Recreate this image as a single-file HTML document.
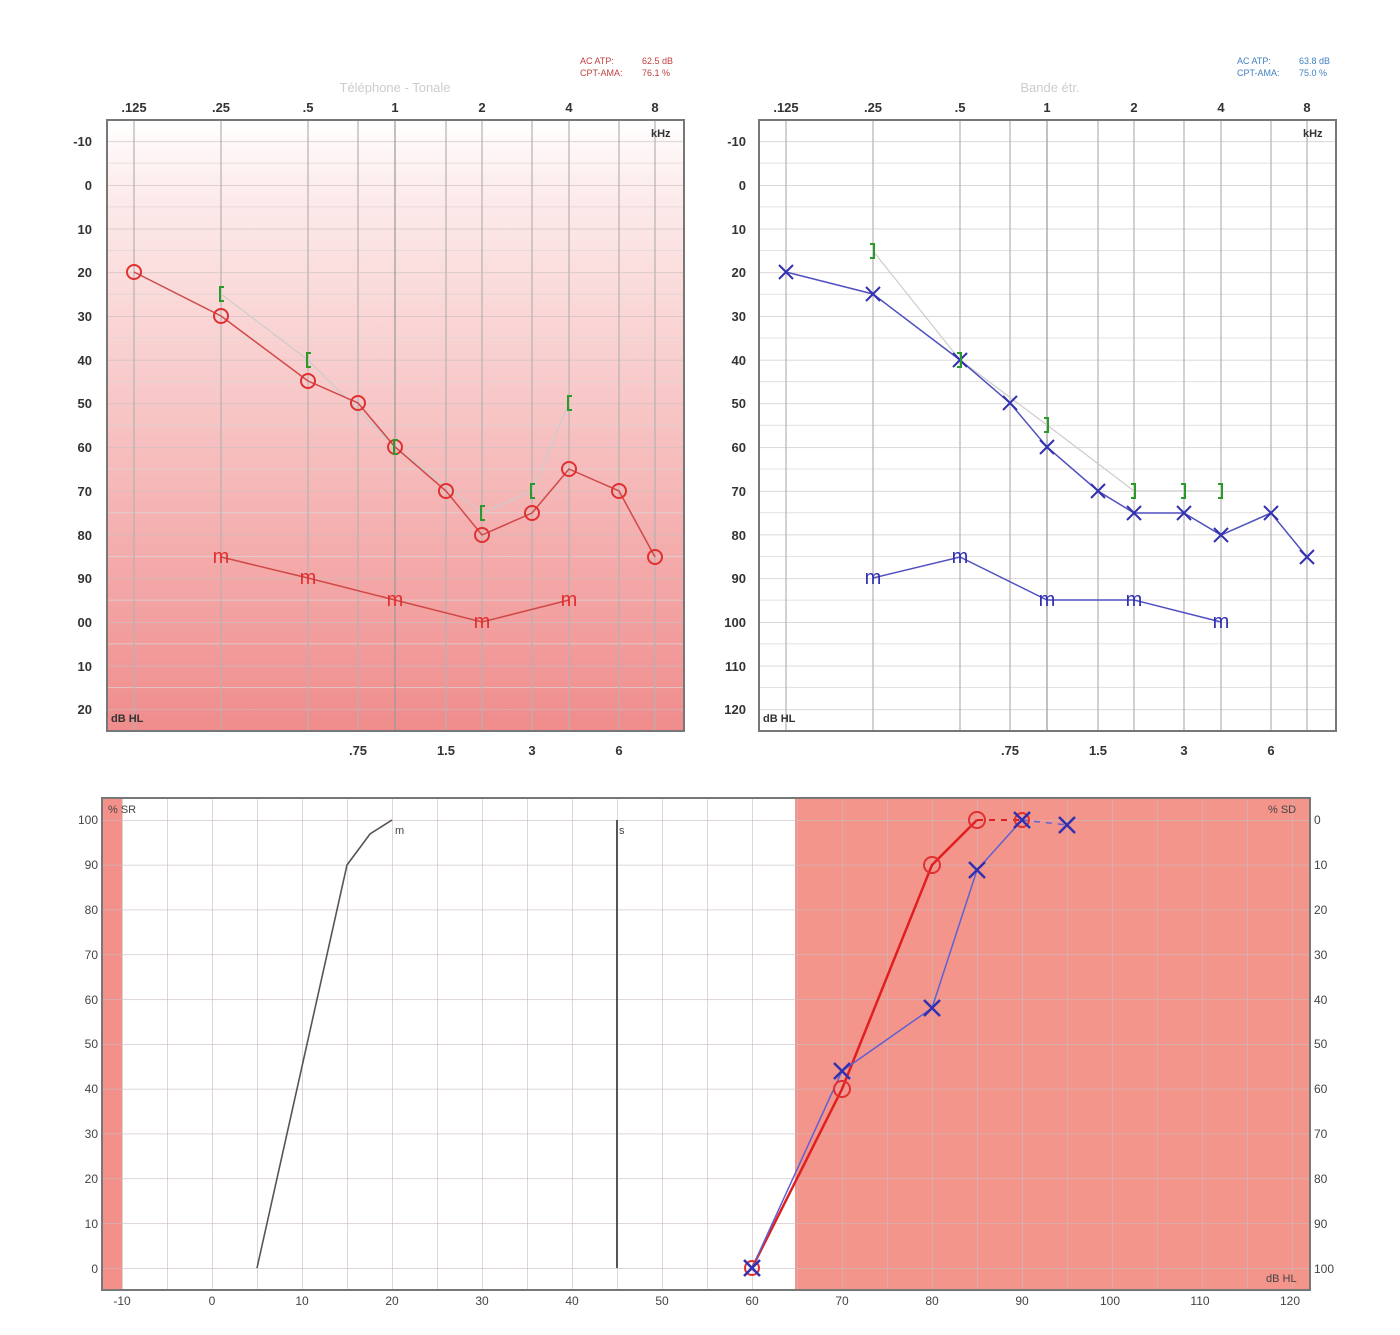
<!DOCTYPE html>
<html><head><meta charset="utf-8"><style>
html,body{margin:0;padding:0;background:#fff;}
svg{display:block;font-family:"Liberation Sans",sans-serif;}
</style></head><body>
<svg width="1400" height="1335" viewBox="0 0 1400 1335" xmlns="http://www.w3.org/2000/svg">
<defs>
<linearGradient id="pk" x1="0" y1="0" x2="0" y2="1">
<stop offset="0" stop-color="#fff"/><stop offset="0.1" stop-color="#fdeeee"/><stop offset="1" stop-color="#f08c8c"/>
</linearGradient>
<pattern id="hg" x="0" y="141.3" width="2000" height="43.7" patternUnits="userSpaceOnUse">
<line x1="0" y1="0" x2="2000" y2="0" stroke="#c8c0c0" stroke-width="1.2"/>
<line x1="0" y1="21.85" x2="2000" y2="21.85" stroke="#ddd6d6" stroke-width="0.8"/>
</pattern>
<pattern id="bg" x="122" y="820" width="45" height="44.8" patternUnits="userSpaceOnUse">
<line x1="0" y1="0" x2="0" y2="44.8" stroke="#c9bcbc" stroke-width="1.2"/>
<line x1="0" y1="0" x2="45" y2="0" stroke="#c9bcbc" stroke-width="1.2"/>
</pattern>
</defs>

<!-- TOP LEFT -->
<rect x="107" y="120" width="577" height="611" fill="url(#pk)"/>
<rect x="107" y="120" width="577" height="611" fill="url(#hg)"/>
<g stroke="#b8b0b0" stroke-width="1.2">
<line x1="134" y1="120" x2="134" y2="731"/><line x1="221" y1="120" x2="221" y2="731"/><line x1="308" y1="120" x2="308" y2="731"/><line x1="358" y1="120" x2="358" y2="731"/><line x1="395" y1="120" x2="395" y2="731" stroke="#999"/><line x1="446" y1="120" x2="446" y2="731"/><line x1="482" y1="120" x2="482" y2="731"/><line x1="532" y1="120" x2="532" y2="731"/><line x1="569" y1="120" x2="569" y2="731"/><line x1="619" y1="120" x2="619" y2="731"/><line x1="655" y1="120" x2="655" y2="731"/>
</g>
<rect x="107" y="120" width="577" height="611" fill="none" stroke="#777" stroke-width="2"/>

<!-- TOP RIGHT -->
<rect x="759" y="120" width="577" height="611" fill="#fff"/>
<rect x="759" y="120" width="577" height="611" fill="url(#hg)"/>
<g stroke="#b8b0b0" stroke-width="1.2">
<line x1="786" y1="120" x2="786" y2="731"/><line x1="873" y1="120" x2="873" y2="731"/><line x1="960" y1="120" x2="960" y2="731"/><line x1="1010" y1="120" x2="1010" y2="731"/><line x1="1047" y1="120" x2="1047" y2="731" stroke="#999"/><line x1="1098" y1="120" x2="1098" y2="731"/><line x1="1134" y1="120" x2="1134" y2="731"/><line x1="1184" y1="120" x2="1184" y2="731"/><line x1="1221" y1="120" x2="1221" y2="731"/><line x1="1271" y1="120" x2="1271" y2="731"/><line x1="1307" y1="120" x2="1307" y2="731"/>
</g>
<rect x="759" y="120" width="577" height="611" fill="none" stroke="#777" stroke-width="2"/>

<g font-size="13" font-weight="bold" fill="#333" text-anchor="middle">
<text x="134" y="112">.125</text><text x="221" y="112">.25</text><text x="308" y="112">.5</text><text x="395" y="112">1</text><text x="482" y="112">2</text><text x="569" y="112">4</text><text x="655" y="112">8</text>
<text x="786" y="112">.125</text><text x="873" y="112">.25</text><text x="960" y="112">.5</text><text x="1047" y="112">1</text><text x="1134" y="112">2</text><text x="1221" y="112">4</text><text x="1307" y="112">8</text>
<text x="358" y="755">.75</text><text x="446" y="755">1.5</text><text x="532" y="755">3</text><text x="619" y="755">6</text>
<text x="1010" y="755">.75</text><text x="1098" y="755">1.5</text><text x="1184" y="755">3</text><text x="1271" y="755">6</text>
</g>
<g font-size="11" font-weight="bold" fill="#333">
<text x="651" y="137">kHz</text><text x="1303" y="137">kHz</text>
<text x="111" y="722">dB HL</text><text x="763" y="722">dB HL</text>
</g>
<g font-size="13" font-weight="bold" fill="#333" text-anchor="end">
<text x="92" y="146">-10</text><text x="92" y="190">0</text><text x="92" y="234">10</text><text x="92" y="277">20</text><text x="92" y="321">30</text><text x="92" y="365">40</text><text x="92" y="408">50</text><text x="92" y="452">60</text><text x="92" y="496">70</text><text x="92" y="540">80</text><text x="92" y="583">90</text><text x="92" y="627">00</text><text x="92" y="671">10</text><text x="92" y="714">20</text>
<text x="746" y="146">-10</text><text x="746" y="190">0</text><text x="746" y="234">10</text><text x="746" y="277">20</text><text x="746" y="321">30</text><text x="746" y="365">40</text><text x="746" y="408">50</text><text x="746" y="452">60</text><text x="746" y="496">70</text><text x="746" y="540">80</text><text x="746" y="583">90</text><text x="746" y="627">100</text><text x="746" y="671">110</text><text x="746" y="714">120</text>
</g>
<text x="395" y="92" font-size="13" fill="#ccc" text-anchor="middle">Téléphone - Tonale</text>
<text x="1050" y="92" font-size="13" fill="#ccc" text-anchor="middle">Bande étr.</text>
<g font-size="9" fill="#c04040"><text x="580" y="64">AC ATP:</text><text x="642" y="64">62.5 dB</text><text x="580" y="76">CPT-AMA:</text><text x="642" y="76">76.1 %</text></g>
<g font-size="9" fill="#4080c0"><text x="1237" y="64">AC ATP:</text><text x="1299" y="64">63.8 dB</text><text x="1237" y="76">CPT-AMA:</text><text x="1299" y="76">75.0 %</text></g>

<!-- left data -->
<polyline points="221,294 308,360 395,447 482,513 532,491 569,403" fill="none" stroke="#ccc" stroke-width="1.2"/>
<polyline points="134,272 221,316 308,381 358,403 395,447 446,491 482,535 532,513 569,469 619,491 655,557" fill="none" stroke="#d04848" stroke-width="1.5"/>
<g fill="none" stroke="#e03030" stroke-width="2">
<circle cx="134" cy="272" r="7"/><circle cx="221" cy="316" r="7"/><circle cx="308" cy="381" r="7"/><circle cx="358" cy="403" r="7"/><circle cx="395" cy="447" r="7"/><circle cx="446" cy="491" r="7"/><circle cx="482" cy="535" r="7"/><circle cx="532" cy="513" r="7"/><circle cx="569" cy="469" r="7"/><circle cx="619" cy="491" r="7"/><circle cx="655" cy="557" r="7"/>
</g>
<g fill="none" stroke="#2a9a2a" stroke-width="2">
<path d="M224,287 h-4 v14 h4"/><path d="M311,353 h-4 v14 h4"/><path d="M398,440 h-4 v14 h4"/><path d="M485,506 h-4 v14 h4"/><path d="M535,484 h-4 v14 h4"/><path d="M572,396 h-4 v14 h4"/>
</g>
<polyline points="221,557 308,578 395,600 482,622 569,600" fill="none" stroke="#d04848" stroke-width="1.5"/>
<g font-size="20" fill="#e03030" text-anchor="middle">
<text x="221" y="562" fill="#ffd0d0" stroke="none"></text>
<text x="221" y="563">m</text><text x="308" y="584">m</text><text x="395" y="606">m</text><text x="482" y="628">m</text><text x="569" y="606">m</text>
</g>

<!-- right data -->
<polyline points="873,251 960,360 1047,425 1134,491 1184,491 1221,491" fill="none" stroke="#ccc" stroke-width="1.2"/>
<polyline points="786,272 873,294 960,360 1010,403 1047,447 1098,491 1134,513 1184,513 1221,535 1271,513 1307,557" fill="none" stroke="#5050c0" stroke-width="1.5"/>
<g stroke="#3030b0" stroke-width="2">
<path d="M779,265 l14,14 M793,265 l-14,14"/><path d="M866,287 l14,14 M880,287 l-14,14"/><path d="M953,353 l14,14 M967,353 l-14,14"/><path d="M1003,396 l14,14 M1017,396 l-14,14"/><path d="M1040,440 l14,14 M1054,440 l-14,14"/><path d="M1091,484 l14,14 M1105,484 l-14,14"/><path d="M1127,506 l14,14 M1141,506 l-14,14"/><path d="M1177,506 l14,14 M1191,506 l-14,14"/><path d="M1214,528 l14,14 M1228,528 l-14,14"/><path d="M1264,506 l14,14 M1278,506 l-14,14"/><path d="M1300,550 l14,14 M1314,550 l-14,14"/>
</g>
<g fill="none" stroke="#2a9a2a" stroke-width="2">
<path d="M870,244 h4 v14 h-4"/><path d="M957,353 h4 v14 h-4"/><path d="M1044,418 h4 v14 h-4"/><path d="M1131,484 h4 v14 h-4"/><path d="M1181,484 h4 v14 h-4"/><path d="M1218,484 h4 v14 h-4"/>
</g>
<polyline points="873,578 960,557 1047,600 1134,600 1221,622" fill="none" stroke="#5050c0" stroke-width="1.5"/>
<g font-size="20" fill="#3030b0" text-anchor="middle">
<text x="873" y="584">m</text><text x="960" y="563">m</text><text x="1047" y="606">m</text><text x="1134" y="606">m</text><text x="1221" y="628">m</text>
</g>

<!-- BOTTOM -->
<rect x="102" y="798" width="1208" height="492" fill="#fff"/>
<rect x="102" y="798" width="20" height="492" fill="#f4908a"/>
<rect x="795" y="798" width="515" height="492" fill="#f4958c"/>
<rect x="102" y="798" width="1208" height="492" fill="url(#bg)"/>
<rect x="102" y="798" width="1208" height="492" fill="none" stroke="#777" stroke-width="2"/>
<g font-size="12" fill="#444" text-anchor="middle">
<text x="122" y="1305">-10</text><text x="212" y="1305">0</text><text x="302" y="1305">10</text><text x="392" y="1305">20</text><text x="482" y="1305">30</text><text x="572" y="1305">40</text><text x="662" y="1305">50</text><text x="752" y="1305">60</text><text x="842" y="1305">70</text><text x="932" y="1305">80</text><text x="1022" y="1305">90</text><text x="1110" y="1305">100</text><text x="1200" y="1305">110</text><text x="1290" y="1305">120</text>
</g>
<g font-size="12" fill="#444" text-anchor="end">
<text x="98" y="824">100</text><text x="98" y="869">90</text><text x="98" y="914">80</text><text x="98" y="959">70</text><text x="98" y="1004">60</text><text x="98" y="1048">50</text><text x="98" y="1093">40</text><text x="98" y="1138">30</text><text x="98" y="1183">20</text><text x="98" y="1228">10</text><text x="98" y="1273">0</text>
</g>
<g font-size="12" fill="#444">
<text x="1314" y="824">0</text><text x="1314" y="869">10</text><text x="1314" y="914">20</text><text x="1314" y="959">30</text><text x="1314" y="1004">40</text><text x="1314" y="1048">50</text><text x="1314" y="1093">60</text><text x="1314" y="1138">70</text><text x="1314" y="1183">80</text><text x="1314" y="1228">90</text><text x="1314" y="1273">100</text>
</g>
<g font-size="11" fill="#444"><text x="108" y="813">% SR</text><text x="1268" y="813">% SD</text><text x="1266" y="1282">dB HL</text><text x="395" y="834">m</text><text x="619" y="834">s</text></g>
<polyline points="257,1268 347,865 370,834 392,820" fill="none" stroke="#555" stroke-width="1.6"/>
<line x1="617" y1="820" x2="617" y2="1268" stroke="#555" stroke-width="2"/>
<polyline points="752,1268 842,1089 932,865 977,820" fill="none" stroke="#e02020" stroke-width="2.5"/>
<line x1="977" y1="820" x2="1022" y2="820" stroke="#e02020" stroke-width="2" stroke-dasharray="6,6"/>
<polyline points="752,1268 842,1071 932,1008 977,870 1022,820" fill="none" stroke="#6060d0" stroke-width="1.5"/>
<line x1="1022" y1="820" x2="1067" y2="825" stroke="#6060d0" stroke-width="1.5" stroke-dasharray="6,6"/>
<g fill="none" stroke="#e03030" stroke-width="2">
<circle cx="752" cy="1268" r="7"/><circle cx="842" cy="1089" r="8"/><circle cx="932" cy="865" r="8"/><circle cx="977" cy="820" r="8"/><circle cx="1022" cy="820" r="7"/>
</g>
<g stroke="#3030b0" stroke-width="2.5">
<path d="M744,1260 l16,16 M760,1260 l-16,16"/><path d="M834,1063 l16,16 M850,1063 l-16,16"/><path d="M924,1000 l16,16 M940,1000 l-16,16"/><path d="M969,862 l16,16 M985,862 l-16,16"/><path d="M1014,812 l16,16 M1030,812 l-16,16"/><path d="M1059,817 l16,16 M1075,817 l-16,16"/>
</g>
</svg>
</body></html>
